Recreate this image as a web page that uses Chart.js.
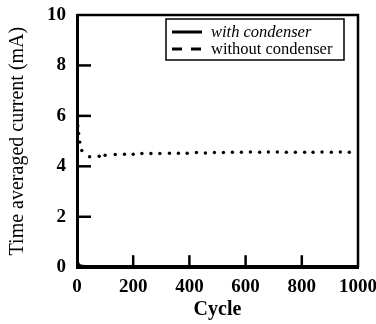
<!DOCTYPE html>
<html>
<head>
<meta charset="utf-8">
<script src="https://cdn.jsdelivr.net/npm/chart.js@4.4.1/dist/chart.umd.min.js"></script>
<style>
html,body{margin:0;padding:0;background:#fff;}
#wrap{width:376px;height:324px;position:relative;}
</style>
</head>
<body>
<div id="wrap"><canvas id="c" width="376" height="324"></canvas></div>
<script>
// ---- data ----
const seriesNames = ["with condenser", "without condenser"];
const withCycles = [0, 5, 10, 20, 40, 100, 200, 400, 600, 800, 1000];
const withCurrent = [0.25, 0.12, 0.06, 0.04, 0.03, 0.03, 0.03, 0.03, 0.03, 0.03, 0.03];
const withoutCycles = [3, 6, 10, 17, 45, 79, 100, 136, 169, 200, 231, 263, 295, 329, 361, 392, 425, 457, 489, 521, 553, 585, 617, 650, 681, 713, 745, 777, 810, 840, 872, 905, 937, 969];
const withoutCurrent = [5.6, 5.3, 4.96, 4.63, 4.38, 4.40, 4.44, 4.47, 4.48, 4.48, 4.51, 4.51, 4.51, 4.52, 4.52, 4.52, 4.55, 4.53, 4.55, 4.55, 4.56, 4.56, 4.57, 4.56, 4.57, 4.57, 4.56, 4.56, 4.56, 4.56, 4.57, 4.56, 4.57, 4.56];
const xTicks = [0, 200, 400, 600, 800, 1000];
const yTicks = [0, 2, 4, 6, 8, 10];
const xTitle = "Cycle";
const yTitle = "Time averaged current (mA)";

const toPts = (xs, ys) => xs.map((x, i) => ({x: x, y: ys[i]}));

const framePlugin = {
  id: 'frame',
  afterDatasetsDraw(chart) {
    const ctx = chart.ctx;
    const a = chart.chartArea;
    const xs = chart.scales.x, ys = chart.scales.y;
    ctx.save();
    ctx.strokeStyle = '#000';
    ctx.lineWidth = 2.5;
    ctx.beginPath();
    ctx.moveTo(a.left, a.top);
    ctx.lineTo(a.right, a.top);
    ctx.lineTo(a.right, a.bottom);
    ctx.stroke();
    ctx.lineWidth = 2.5;
    xTicks.forEach(v => {
      if (v === xs.min || v === xs.max) return;
      const p = xs.getPixelForValue(v);
      ctx.beginPath(); ctx.moveTo(p, a.bottom); ctx.lineTo(p, a.bottom - 12); ctx.stroke();
    });
    yTicks.forEach(v => {
      if (v === ys.min || v === ys.max) return;
      const p = ys.getPixelForValue(v);
      ctx.beginPath(); ctx.moveTo(a.left, p); ctx.lineTo(a.left + 14, p); ctx.stroke();
    });
    // legend box
    const bw = 178, bh = 41;
    const bx = a.right - 192, by = a.top + 4;
    ctx.lineWidth = 1.5;
    ctx.strokeRect(bx, by, bw, bh);
    const ly1 = by + 13, ly2 = by + 30;
    ctx.lineWidth = 3;
    ctx.beginPath(); ctx.moveTo(bx + 6, ly1); ctx.lineTo(bx + 36, ly1); ctx.stroke();
    ctx.beginPath(); ctx.moveTo(bx + 6, ly2); ctx.lineTo(bx + 16, ly2); ctx.stroke();
    ctx.beginPath(); ctx.moveTo(bx + 25, ly2); ctx.lineTo(bx + 35, ly2); ctx.stroke();
    ctx.fillStyle = '#000';
    ctx.textBaseline = 'middle';
    ctx.textAlign = 'left';
    ctx.font = 'italic 16.5px "Liberation Serif"';
    ctx.fillText(seriesNames[0], bx + 45, ly1 + 1);
    ctx.font = '16.5px "Liberation Serif"';
    ctx.fillText(seriesNames[1], bx + 45, ly2 + 1);
    ctx.restore();
  }
};

new Chart(document.getElementById('c'), {
  type: 'line',
  data: {
    datasets: [
      {
        label: seriesNames[0],
        data: toPts(withCycles, withCurrent),
        borderColor: '#000',
        borderWidth: 3,
        pointRadius: 0,
        tension: 0.3,
        fill: false
      },
      {
        label: seriesNames[1],
        data: toPts(withoutCycles, withoutCurrent),
        borderColor: '#000',
        backgroundColor: '#000',
        showLine: false,
        pointRadius: 1.7,
        pointBorderWidth: 0,
        pointStyle: 'circle'
      }
    ]
  },
  options: {
    responsive: false,
    animation: false,
    devicePixelRatio: 1,
    layout: { padding: { left: 6, top: 15, right: 18, bottom: 2 } },
    plugins: { legend: { display: false }, tooltip: { enabled: false } },
    scales: {
      x: {
        type: 'linear',
        min: 0, max: 1000,
        afterBuildTicks: s => { s.ticks = xTicks.map(v => ({value: v})); },
        afterFit: s => { s.paddingRight = 0; s.paddingLeft = 0; s.height -= 8; },
        grid: { display: true, drawOnChartArea: false, drawTicks: false },
        border: { display: true, color: '#000', width: 3 },
        ticks: { color: '#000', padding: 8, maxRotation: 0, callback: v => String(v), font: { family: '"Liberation Serif"', size: 19, weight: 'bold' } },
        title: { display: true, text: xTitle, color: '#000', padding: { top: 0, bottom: 0 }, font: { family: '"Liberation Serif"', size: 20, weight: 'bold' } }
      },
      y: {
        type: 'linear',
        min: 0, max: 10,
        afterBuildTicks: s => { s.ticks = yTicks.map(v => ({value: v})); },
        afterFit: s => { s.paddingTop = 0; s.paddingBottom = 0; },
        grid: { display: true, drawOnChartArea: false, drawTicks: false },
        border: { display: true, color: '#000', width: 3 },
        ticks: { color: '#000', padding: 11, callback: v => String(v), font: { family: '"Liberation Serif"', size: 19, weight: 'bold' } },
        title: { display: true, text: yTitle, color: '#000', padding: { top: 0, bottom: 6 }, font: { family: '"Liberation Serif"', size: 20 } }
      }
    }
  },
  plugins: [framePlugin]
});
</script>
</body>
</html>
